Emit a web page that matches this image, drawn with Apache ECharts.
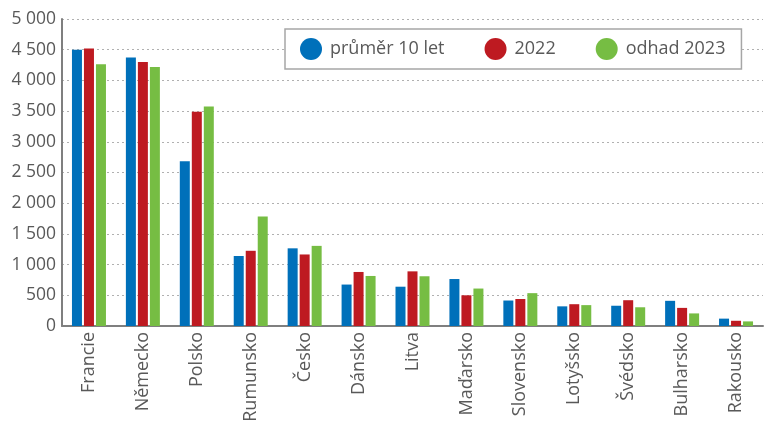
<!DOCTYPE html>
<html>
<head>
<meta charset="utf-8">
<title>graf</title>
<script src="https://cdn.jsdelivr.net/npm/echarts@6/dist/echarts.min.js"></script>
<style>
  html, body { margin: 0; padding: 0; background: #fff; }
  #chart { width: 766px; height: 421px; }
</style>
</head>
<body>
<div id="chart"></div>
<script>
var zeme = ['Francie', 'Německo', 'Polsko', 'Rumunsko', 'Česko', 'Dánsko', 'Litva',
            'Maďarsko', 'Slovensko', 'Lotyšsko', 'Švédsko', 'Bulharsko', 'Rakousko'];
var prumer10 = [4500, 4375, 2685, 1140, 1265, 675, 640, 765, 415, 320, 330, 410, 120];
var rok2022 = [4520, 4300, 3490, 1225, 1165, 880, 890, 500, 440, 355, 420, 295, 85];
var odhad2023 = [4265, 4220, 3575, 1785, 1305, 815, 810, 610, 535, 340, 305, 205, 75];
var nazvy = ['průměr 10 let', '2022', 'odhad 2023'];
var barvy = ['#0070ba', '#be1a21', '#76bd43'];

var pismo = 'Open Sans';
var chart = echarts.init(document.getElementById('chart'));

function fmt(v) {
  return String(v).replace(/\B(?=(\d{3})+(?!\d))/g, ' ');
}

function rada(i, data) {
  return {
    name: nazvy[i],
    type: 'bar',
    data: data,
    barWidth: 10,
    barGap: '20%',
    itemStyle: { color: barvy[i] }
  };
}

chart.setOption({
  animation: false,
  color: barvy,
  grid: { left: 62, right: 3, top: 19, bottom: 95, containLabel: false, outerBoundsMode: 'none' },
  legend: {
    data: nazvy,
    left: 285,
    top: 29,
    padding: [9, 16, 9, 15],
    itemGap: 40,
    itemWidth: 22,
    itemHeight: 22,
    icon: 'circle',
    borderColor: '#a6a6a6',
    borderWidth: 1.5,
    backgroundColor: '#fff',
    textStyle: { fontFamily: pismo, fontSize: 18, color: '#595959', padding: [0, 0, 0, 3] }
  },
  xAxis: {
    type: 'category',
    data: zeme,
    axisLine: { lineStyle: { color: '#7f7f7f', width: 2 } },
    axisTick: { show: false },
    axisLabel: {
      rotate: 90,
      interval: 0,
      margin: 6,
      fontFamily: pismo,
      fontSize: 18,
      color: '#595959'
    }
  },
  yAxis: {
    type: 'value',
    min: 0,
    max: 5000,
    interval: 500,
    axisLine: { show: true, lineStyle: { color: '#7f7f7f', width: 2 } },
    axisTick: { show: false },
    axisLabel: {
      margin: 6,
      fontFamily: pismo,
      fontSize: 17.5,
      color: '#595959',
      formatter: fmt
    },
    splitLine: { lineStyle: { color: '#b0b0b0', type: [2, 3], width: 1 } }
  },
  series: [rada(0, prumer10), rada(1, rok2022), rada(2, odhad2023)]
});
</script>
</body>
</html>
